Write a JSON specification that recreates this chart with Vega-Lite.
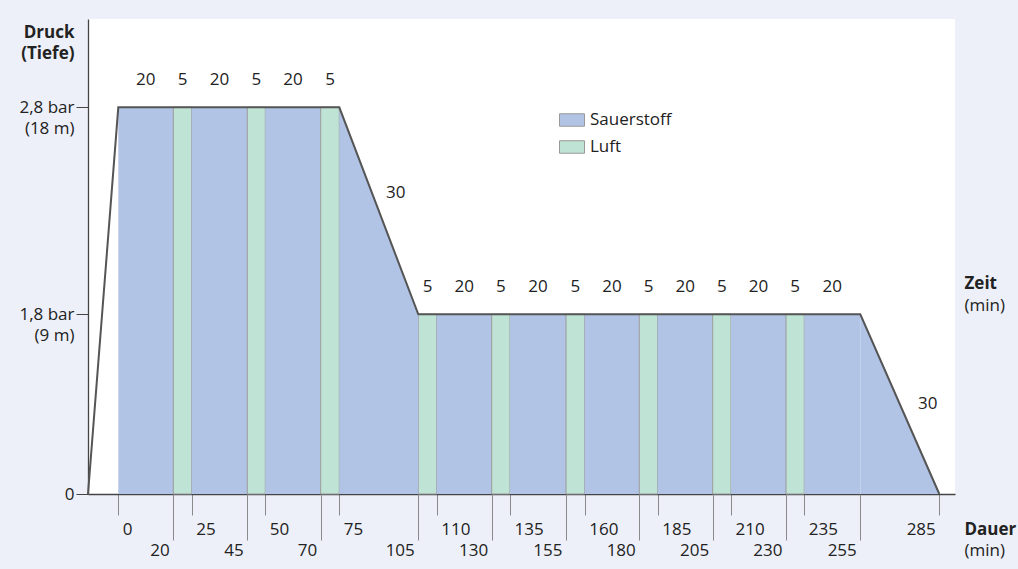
{
  "$schema": "https://vega.github.io/schema/vega-lite/v6.json",
  "width": 867,
  "height": 475,
  "autosize": {"type": "none"},
  "padding": {"left": 88, "top": 19, "right": 63, "bottom": 75},
  "background": "#edf0f8",
  "config": {
    "font": "Open Sans",
    "view": {"fill": "white", "stroke": null},
    "axis": {"labelFont": "Open Sans", "titleFont": "Open Sans", "labelFontSize": 17, "titleFontSize": 17, "labelColor": "#222", "titleColor": "#222", "grid": false, "zindex": 1, "labelFlush": false, "labelOverlap": false},
    "text": {"font": "Open Sans", "fontSize": 17, "color": "#222"}
  },
  "datasets": {
    "segments": [
      {"start": 0, "end": 20, "mid": 10, "level": 2.8, "gas": "Sauerstoff", "dur": "20"},
      {"start": 20, "end": 25, "mid": 22.5, "level": 2.8, "gas": "Luft", "dur": "5"},
      {"start": 25, "end": 45, "mid": 35, "level": 2.8, "gas": "Sauerstoff", "dur": "20"},
      {"start": 45, "end": 50, "mid": 47.5, "level": 2.8, "gas": "Luft", "dur": "5"},
      {"start": 50, "end": 70, "mid": 60, "level": 2.8, "gas": "Sauerstoff", "dur": "20"},
      {"start": 70, "end": 75, "mid": 72.5, "level": 2.8, "gas": "Luft", "dur": "5"},
      {"start": 105, "end": 110, "mid": 107.5, "level": 1.8, "gas": "Luft", "dur": "5"},
      {"start": 110, "end": 130, "mid": 120, "level": 1.8, "gas": "Sauerstoff", "dur": "20"},
      {"start": 130, "end": 135, "mid": 132.5, "level": 1.8, "gas": "Luft", "dur": "5"},
      {"start": 135, "end": 155, "mid": 145, "level": 1.8, "gas": "Sauerstoff", "dur": "20"},
      {"start": 155, "end": 160, "mid": 157.5, "level": 1.8, "gas": "Luft", "dur": "5"},
      {"start": 160, "end": 180, "mid": 170, "level": 1.8, "gas": "Sauerstoff", "dur": "20"},
      {"start": 180, "end": 185, "mid": 182.5, "level": 1.8, "gas": "Luft", "dur": "5"},
      {"start": 185, "end": 205, "mid": 195, "level": 1.8, "gas": "Sauerstoff", "dur": "20"},
      {"start": 205, "end": 210, "mid": 207.5, "level": 1.8, "gas": "Luft", "dur": "5"},
      {"start": 210, "end": 230, "mid": 220, "level": 1.8, "gas": "Sauerstoff", "dur": "20"},
      {"start": 230, "end": 235, "mid": 232.5, "level": 1.8, "gas": "Luft", "dur": "5"},
      {"start": 235, "end": 255, "mid": 245, "level": 1.8, "gas": "Sauerstoff", "dur": "20"}
    ],
    "profile": [
      {"t": -10, "p": 0},
      {"t": 0, "p": 2.8},
      {"t": 75, "p": 2.8},
      {"t": 105, "p": 1.8},
      {"t": 255, "p": 1.8},
      {"t": 285, "p": 0}
    ],
    "ascents": [
      {"seg": "a1", "t": 75, "p": 2.8},
      {"seg": "a1", "t": 105, "p": 1.8},
      {"seg": "a2", "t": 255, "p": 1.8},
      {"seg": "a2", "t": 285, "p": 0}
    ]
  },
  "layer": [
    {
      "data": {"name": "segments"},
      "mark": {"type": "rect", "strokeWidth": 1},
      "encoding": {
        "x": {
          "field": "start", "type": "quantitative",
          "scale": {
            "domain": [-10, 0, 20, 25, 45, 50, 70, 75, 105, 110, 130, 135, 155, 160, 180, 185, 205, 210, 230, 235, 255, 285, 290],
            "range": [0, 30.3, 85.3, 103.7, 159.3, 177.3, 232.7, 251.3, 330.3, 348.7, 403.7, 422, 478, 496.7, 551.3, 569.7, 624.7, 643, 698, 716.3, 772.3, 851.3, 867],
            "nice": false, "zero": false
          },
          "axis": {
            "orient": "bottom",
            "values": [0, 25, 50, 75, 110, 135, 160, 185, 210, 235, 285],
            "tickSize": 21, "tickColor": "#8a8a8a", "tickWidth": 1,
            "domainColor": "#444", "domainWidth": 1.3,
            "labelAlign": {"condition": {"test": "datum.value > 280", "value": "right"}, "value": "left"},
            "labelOffset": {"condition": {"test": "datum.value > 280", "value": -4}, "value": 4},
            "labelBaseline": "alphabetic", "labelPadding": 19,
            "title": "Dauer", "titleFontWeight": "bold", "titleX": 876, "titleY": 40, "titleAlign": "left", "titleBaseline": "alphabetic"
          }
        },
        "x2": {"field": "end"},
        "y": {
          "field": "level", "type": "quantitative",
          "scale": {"domain": [0, 1.8, 2.8, 3.25], "range": [475, 295.3, 88.3, 0], "nice": false, "zero": false},
          "axis": {
            "orient": "left",
            "values": [0, 1.8, 2.8],
            "labelExpr": "datum.value > 2.5 ? ['2,8 bar', '(18 m)'] : (datum.value > 1 ? ['1,8 bar', '(9 m)'] : '0')",
            "tickSize": 12, "tickColor": "#444", "domainColor": "#444", "domainWidth": 1.3,
            "labelPadding": 2, "labelAlign": "right", "labelBaseline": "middle", "labelLineHeight": 21,
            "title": ["Druck", "(Tiefe)"], "titleFontWeight": "bold", "titleAngle": 0, "titleX": -14, "titleY": 18.6,
            "titleAlign": "right", "titleBaseline": "alphabetic", "titleLineHeight": 21
          }
        },
        "y2": {"datum": 0},
        "color": {
          "field": "gas", "type": "nominal",
          "scale": {"domain": ["Sauerstoff", "Luft"], "range": ["#b1c4e6", "#bfe3d5"]},
          "legend": {
            "orient": "none", "legendX": 471, "legendY": 88, "title": null,
            "symbolType": "M-1,-0.5H1V0.5H-1Z", "symbolSize": 625,
            "symbolStrokeColor": "#999", "symbolStrokeWidth": 1, "symbolOpacity": 1,
            "labelFontSize": 17, "labelColor": "#222", "labelOffset": 5, "rowPadding": 5, "padding": 0
          }
        },
        "opacity": {"value": 1},
        "stroke": {"condition": {"test": "datum.gas === 'Luft'", "value": "#999999"}, "value": null}
      }
    },
    {
      "data": {"name": "ascents"},
      "mark": {"type": "area", "color": "#b1c4e6", "opacity": 1},
      "encoding": {
        "x": {"field": "t", "type": "quantitative", "axis": null},
        "y": {"field": "p", "type": "quantitative", "axis": null},
        "y2": {"datum": 0},
        "detail": {"field": "seg"}
      }
    },
    {
      "data": {"name": "profile"},
      "mark": {"type": "line", "color": "#555555", "strokeWidth": 2},
      "encoding": {
        "x": {
          "field": "t", "type": "quantitative",
          "axis": {
            "orient": "bottom",
            "values": [20, 45, 70, 105, 130, 155, 180, 205, 230, 255],
            "domain": false,
            "tickSize": 46, "tickColor": "#8a8a8a", "tickWidth": 1,
            "labelAlign": "right", "labelOffset": -4, "labelBaseline": "alphabetic", "labelPadding": 15,
            "title": "(min)", "titleFontWeight": "normal", "titleX": 876, "titleY": 61, "titleAlign": "left", "titleBaseline": "alphabetic"
          }
        },
        "y": {
          "field": "p", "type": "quantitative",
          "axis": {
            "orient": "right", "domain": false, "ticks": false, "labels": false,
            "title": "Zeit", "titleFontWeight": "bold", "titleAngle": 0, "titleX": 9, "titleY": 269,
            "titleAlign": "left", "titleBaseline": "alphabetic"
          }
        }
      }
    },
    {
      "data": {"name": "segments"},
      "mark": {"type": "text", "baseline": "alphabetic", "align": "center", "dy": -22},
      "encoding": {
        "x": {"field": "mid", "type": "quantitative", "axis": null},
        "y": {
          "field": "level", "type": "quantitative",
          "axis": {
            "orient": "right", "domain": false, "ticks": false, "labels": false,
            "title": "(min)", "titleFontWeight": "normal", "titleAngle": 0, "titleX": 9, "titleY": 291,
            "titleAlign": "left", "titleBaseline": "alphabetic"
          }
        },
        "text": {"field": "dur"}
      }
    },
    {
      "data": {"values": [{"t": 90, "p": 2.3, "label": "30"}]},
      "mark": {"type": "text", "baseline": "middle", "align": "center", "dx": 17, "dy": -18},
      "encoding": {
        "x": {"field": "t", "type": "quantitative", "axis": null},
        "y": {"field": "p", "type": "quantitative", "axis": null},
        "text": {"field": "label"}
      }
    },
    {
      "data": {"values": [{"t": 270, "p": 0.9, "label": "30"}]},
      "mark": {"type": "text", "baseline": "middle", "align": "center", "dx": 28, "dy": 0},
      "encoding": {
        "x": {"field": "t", "type": "quantitative", "axis": null},
        "y": {"field": "p", "type": "quantitative", "axis": null},
        "text": {"field": "label"}
      }
    }
  ],
  "resolve": {"axis": {"x": "independent", "y": "independent"}}
}
